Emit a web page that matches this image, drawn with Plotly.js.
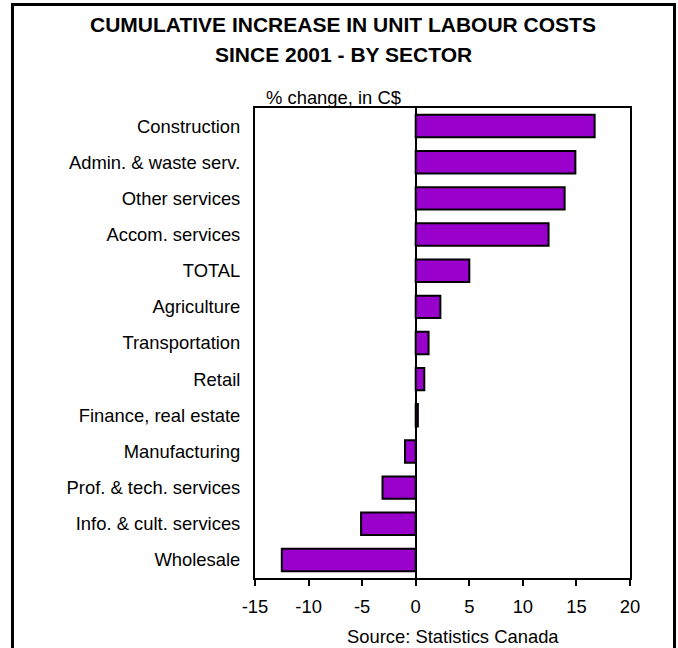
<!DOCTYPE html>
<html>
<head>
<meta charset="utf-8">
<script src="https://cdn.plot.ly/plotly-3.0.1.min.js"></script>
<style>
  html, body { margin: 0; padding: 0; background: #ffffff; }
  #chart { width: 678px; height: 648px; }
</style>
</head>
<body>
<div id="chart"></div>
<script>
// Sectors, listed from top to bottom of the chart
const sectors = [
  "Construction",
  "Admin. & waste serv.",
  "Other services",
  "Accom. services",
  "TOTAL",
  "Agriculture",
  "Transportation",
  "Retail",
  "Finance, real estate",
  "Manufacturing",
  "Prof. & tech. services",
  "Info. & cult. services",
  "Wholesale"
];

// Cumulative % change in unit labour costs since 2001 (C$)
const pctChange = [16.7, 14.9, 13.9, 12.4, 5.0, 2.3, 1.2, 0.8, 0.2, -1.0, -3.1, -5.1, -12.5];

const xTickVals = [-15, -10, -5, 0, 5, 10, 15, 20];

const titleLine1 = "CUMULATIVE INCREASE IN UNIT LABOUR COSTS";
const titleLine2 = "SINCE 2001 - BY SECTOR";
const unitLabel = "% change, in C$";
const sourceLabel = "Source: Statistics Canada";

const FONT = "Liberation Sans, Arial, Helvetica, sans-serif";
const LABEL_SIZE = 18.4;

const trace = {
  type: "bar",
  orientation: "h",
  x: pctChange,
  y: sectors,
  marker: {
    color: "#9900CC",
    line: { color: "#000000", width: 2 }
  },
  hoverinfo: "none"
};

const layout = {
  width: 678,
  height: 648,
  margin: { l: 255, r: 48, t: 108, b: 70, pad: 0 },
  paper_bgcolor: "#ffffff",
  plot_bgcolor: "#ffffff",
  font: { family: FONT, size: LABEL_SIZE, color: "#000000" },
  showlegend: false,
  bargap: 0.38,
  xaxis: {
    range: [-15, 20],
    tickmode: "array",
    tickvals: xTickVals,
    ticktext: xTickVals.map(String),
    ticks: "outside",
    ticklen: 6,
    tickwidth: 2,
    tickcolor: "#000000",
    ticklabelstandoff: 5,
    showgrid: false,
    zeroline: true,
    zerolinecolor: "#000000",
    zerolinewidth: 2,
    showline: true,
    linecolor: "#000000",
    linewidth: 2,
    mirror: true,
    tickfont: { family: FONT, size: LABEL_SIZE, color: "#000000" },
    fixedrange: true
  },
  yaxis: {
    type: "category",
    autorange: "reversed",
    ticks: "",
    ticklabelstandoff: 9,
    showgrid: false,
    zeroline: false,
    showline: true,
    linecolor: "#000000",
    linewidth: 2,
    mirror: true,
    tickfont: { family: FONT, size: LABEL_SIZE, color: "#000000" },
    fixedrange: true
  },
  annotations: [
    {
      text: "<b>" + titleLine1 + "</b>",
      xref: "paper", yref: "paper",
      x: 0.2347, y: 1.1766,
      xanchor: "center", yanchor: "middle",
      showarrow: false,
      font: { family: FONT, size: 21, color: "#000000" }
    },
    {
      text: "<b>" + titleLine2 + "</b>",
      xref: "paper", yref: "paper",
      x: 0.2347, y: 1.1134,
      xanchor: "center", yanchor: "middle",
      showarrow: false,
      font: { family: FONT, size: 21, color: "#000000" }
    },
    {
      text: unitLabel,
      xref: "paper", yref: "paper",
      x: 0.208, y: 1.0223,
      xanchor: "center", yanchor: "middle",
      showarrow: false,
      font: { family: FONT, size: LABEL_SIZE, color: "#000000" }
    },
    {
      text: sourceLabel,
      xref: "paper", yref: "paper",
      x: 0.5267, y: -0.1245,
      xanchor: "center", yanchor: "middle",
      showarrow: false,
      font: { family: FONT, size: LABEL_SIZE, color: "#000000" }
    }
  ],
  shapes: [
    {
      // outer frame around the whole chart
      type: "rect",
      xref: "paper", yref: "paper",
      x0: -0.6467, x1: 1.1187,
      y0: -0.2596, y1: 1.2202,
      line: { color: "#000000", width: 3 },
      fillcolor: "rgba(0,0,0,0)",
      layer: "above"
    }
  ]
};

Plotly.newPlot("chart", [trace], layout, { displayModeBar: false, staticPlot: true });
</script>
</body>
</html>
